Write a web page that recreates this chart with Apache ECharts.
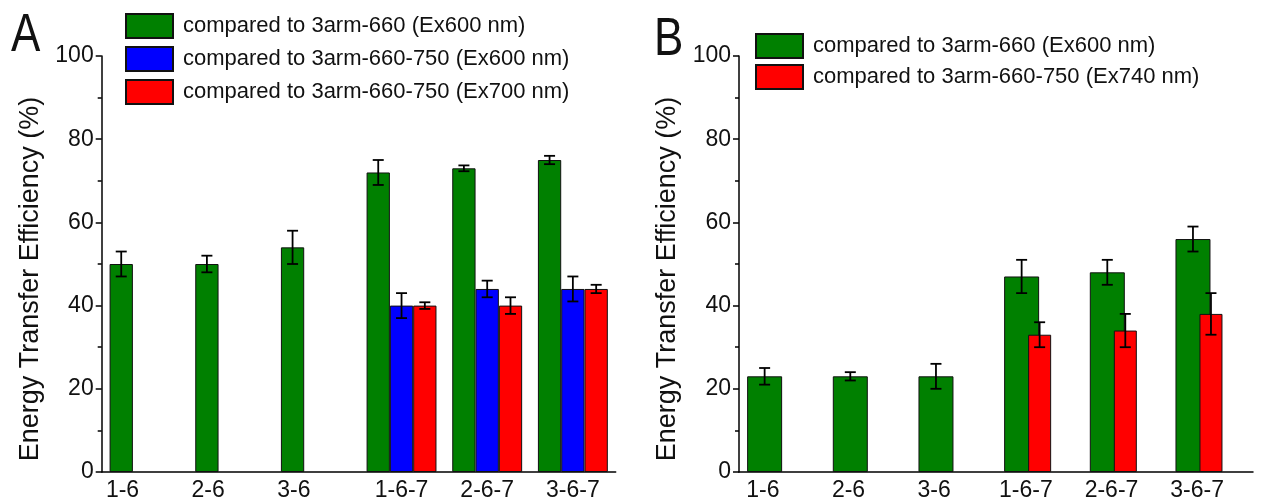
<!DOCTYPE html>
<html>
<head>
<meta charset="utf-8">
<script src="https://cdn.jsdelivr.net/npm/echarts@6/dist/echarts.min.js"></script>
<style>
  html, body { margin: 0; padding: 0; background: #fff; }
  #chart { width: 1262px; height: 502px; }
</style>
</head>
<body>
<div id="chart"></div>
<script>
// categories
const categories = ['1-6', '2-6', '3-6', '1-6-7', '2-6-7', '3-6-7'];

// Panel A values (%)
const greenA = [50, 50, 54, 72, 73, 75];
const greenAErr = [3, 2, 4, 3, 0.7, 1];
const blueA = [null, null, null, 40, 44, 44];
const blueAErr = [null, null, null, 3, 2, 3];
const redA = [null, null, null, 40, 40, 44];
const redAErr = [null, null, null, 0.8, 2, 1];

// Panel B values (%)
const greenB = [23, 23, 23, 47, 48, 56];
const greenBErr = [2, 1, 3, 4, 3, 3];
const redB = [null, null, null, 33, 34, 38];
const redBErr = [null, null, null, 3, 4, 5];

// y ticks
const yTicks = [0, 20, 40, 60, 80, 100];

const legendA = ['compared to 3arm-660 (Ex600 nm)', 'compared to 3arm-660-750 (Ex600 nm)', 'compared to 3arm-660-750 (Ex700 nm)'];
const legendB = ['compared to 3arm-660 (Ex600 nm)', 'compared to 3arm-660-750 (Ex740 nm)'];

const FONT = "'Liberation Sans', Arial, sans-serif";
const GREEN = '#008000', BLUE = '#0000ff', RED = '#ff0000';

let chart = echarts.init(document.getElementById('chart'));

// error bar drawn at a fixed pixel offset from category centre
function errorBars(offset) {
    return function (params, api) {
        let x = api.value(0), y = api.value(1), e = api.value(2);
        let hi = api.coord([x, y + e]);
        let lo = api.coord([x, y - e]);
        let px = hi[0] + offset;
        let cap = 5.5;
        let st = { stroke: '#000', lineWidth: 1.8 };
        return {
            type: 'group',
            children: [
                { type: 'line', shape: { x1: px, y1: hi[1], x2: px, y2: lo[1] }, style: st },
                { type: 'line', shape: { x1: px - cap, y1: hi[1], x2: px + cap, y2: hi[1] }, style: st },
                { type: 'line', shape: { x1: px - cap, y1: lo[1], x2: px + cap, y2: lo[1] }, style: st }
            ]
        };
    };
}

function errData(vals, errs) {
    let out = [];
    vals.forEach((v, i) => { if (v != null) out.push([i, v, errs[i]]); });
    return out;
}

function xAxisFor(gridIndex, singleShift) {
    return {
        type: 'category',
        gridIndex: gridIndex,
        data: categories,
        axisLine: { lineStyle: { color: '#000', width: 1.5 } },
        axisTick: { show: false },
        axisLabel: {
            margin: 7,
            color: '#111',
            fontFamily: FONT,
            fontSize: 23,
            interval: 0,
            formatter: (v, i) => (i < 3 ? '{s|' + v + '}' : '{t|' + v + '}'),
            rich: {
                s: { fontFamily: FONT, fontSize: 23, color: '#111', padding: [0, singleShift[0], 0, 0] },
                t: { fontFamily: FONT, fontSize: 23, color: '#111', padding: [0, singleShift[1], 0, 0] }
            }
        }
    };
}

function yAxisFor(gridIndex) {
    return {
        type: 'value',
        gridIndex: gridIndex,
        min: yTicks[0],
        max: yTicks[yTicks.length - 1],
        interval: 20,
        name: 'Energy Transfer Efficiency (%)',
        nameLocation: 'middle',
        nameGap: 58,
        nameTextStyle: { fontFamily: FONT, fontSize: 27, color: '#111', padding: [0, 30, 0, 0] },
        axisLine: { show: true, lineStyle: { color: '#000', width: 1.5 } },
        axisTick: { show: true, length: 6, lineStyle: { color: '#000', width: 1.5 } },
        minorTick: { show: true, splitNumber: 2, length: 4, lineStyle: { color: '#000', width: 1.5 } },
        splitLine: { show: false },
        axisLabel: { margin: 8, color: '#111', fontFamily: FONT, fontSize: 23 }
    };
}

const barBorder = { borderColor: '#111', borderWidth: 1 };

function legendFor(names, left, top, gap) {
    return {
        data: names,
        orient: 'vertical', left: left, top: top, padding: 0,
        itemWidth: 47, itemHeight: 24, itemGap: gap, icon: 'rect',
        formatter: n => n.trim(),
        textStyle: { fontFamily: FONT, fontSize: 22, lineHeight: 24, color: '#111', padding: [0, 0, 0, 5] }
    };
}

let option = {
    animation: false,
    backgroundColor: '#fff',
    textStyle: { fontFamily: FONT },
    grid: [
        { left: 101.7, top: 56, width: 514, bottom: 29 },
        { left: 739, top: 56, width: 514, bottom: 29 }
    ],
    graphic: [
        { type: 'text', left: 11, top: 10, scaleY: 1.2,
          style: { text: 'A', fontFamily: FONT, fontSize: 44, fill: '#111' } },
        { type: 'text', left: 654, top: 14, scaleY: 1.2,
          style: { text: 'B', fontFamily: FONT, fontSize: 44, fill: '#111' } }
    ],
    legend: [
        legendFor(legendA, 125, 13, 7),
        legendFor([legendB[0] + ' ', legendB[1]], 755, 33, 5)
    ],
    xAxis: [xAxisFor(0, [44, 0]), xAxisFor(1, [38, 26])],
    yAxis: [yAxisFor(0), yAxisFor(1)],
    series: [
        // Panel A bars
        { name: legendA[0], type: 'bar', xAxisIndex: 0, yAxisIndex: 0, data: greenA, barWidth: 23.3, barGap: '0%',
          itemStyle: Object.assign({ color: GREEN }, barBorder) },
        { name: legendA[1], type: 'bar', xAxisIndex: 0, yAxisIndex: 0, data: blueA, barWidth: 23.3, barGap: '0%',
          itemStyle: Object.assign({ color: BLUE }, barBorder) },
        { name: legendA[2], type: 'bar', xAxisIndex: 0, yAxisIndex: 0, data: redA, barWidth: 23.3, barGap: '0%',
          itemStyle: Object.assign({ color: RED }, barBorder) },
        // Panel B bars (red overlaps green; empty spacer shifts the group left)
        { name: legendB[0] + ' ', type: 'bar', xAxisIndex: 1, yAxisIndex: 1, data: greenB, barWidth: 35, barGap: '-31.4%',
          itemStyle: Object.assign({ color: GREEN }, barBorder) },
        { name: legendB[1], type: 'bar', xAxisIndex: 1, yAxisIndex: 1, data: redB, barWidth: 23, barGap: '-31.4%',
          itemStyle: Object.assign({ color: RED }, barBorder) },
        { name: 'spacer', type: 'bar', xAxisIndex: 1, yAxisIndex: 1, data: [], barWidth: 29.6, barGap: '-31.4%',
          silent: true },
        // error bars
        { type: 'custom', xAxisIndex: 0, yAxisIndex: 0, z: 10, renderItem: errorBars(-23.3), data: errData(greenA, greenAErr) },
        { type: 'custom', xAxisIndex: 0, yAxisIndex: 0, z: 10, renderItem: errorBars(0), data: errData(blueA, blueAErr) },
        { type: 'custom', xAxisIndex: 0, yAxisIndex: 0, z: 10, renderItem: errorBars(23.3), data: errData(redA, redAErr) },
        { type: 'custom', xAxisIndex: 1, yAxisIndex: 1, z: 10, renderItem: errorBars(-17.2), data: errData(greenB, greenBErr) },
        { type: 'custom', xAxisIndex: 1, yAxisIndex: 1, z: 10, renderItem: errorBars(0.8), data: errData(redB, redBErr) }
    ]
};

chart.setOption(option);
</script>
</body>
</html>
